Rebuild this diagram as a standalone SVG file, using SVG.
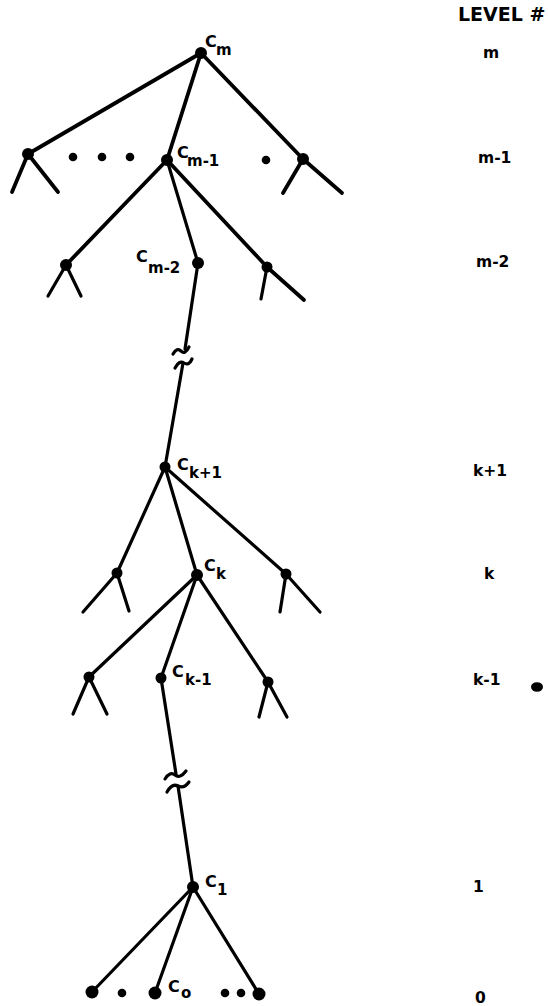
<svg xmlns="http://www.w3.org/2000/svg" width="548" height="1006" viewBox="0 0 548 1006">
<style>
.e{stroke:#000;stroke-width:3.2;fill:none;stroke-linecap:round}
.t{stroke-width:3.8}
.n{fill:#000}
.lbl{font-family:"DejaVu Sans",sans-serif;font-weight:bold;font-size:16px;fill:#000}
.sub{font-size:15px}
.lev{font-family:"DejaVu Sans",sans-serif;font-weight:bold;font-size:15.5px;fill:#000}
</style>
<rect width="548" height="1006" fill="#fff"/>
<g id="connectors">
<line class="e t" x1="201" y1="53" x2="28" y2="154"/>
<line class="e t" x1="201" y1="53" x2="167" y2="160"/>
<line class="e t" x1="201" y1="53" x2="303" y2="159"/>
<line class="e t" x1="28" y1="154" x2="12" y2="192"/>
<line class="e t" x1="28" y1="154" x2="58" y2="192"/>
<line class="e t" x1="303" y1="159" x2="283" y2="193"/>
<line class="e t" x1="303" y1="159" x2="342" y2="193"/>
<line class="e t" x1="167" y1="160" x2="66" y2="265"/>
<line class="e" x1="167" y1="160" x2="198" y2="263"/>
<line class="e t" x1="167" y1="160" x2="267" y2="267"/>
<line class="e" x1="66" y1="265" x2="48" y2="296"/>
<line class="e" x1="66" y1="265" x2="81" y2="296"/>
<line class="e" x1="267" y1="267" x2="261" y2="299"/>
<line class="e t" x1="267" y1="267" x2="304" y2="300"/>
<line class="e" x1="198" y1="263" x2="185" y2="349"/>
<path class="e" d="M173,354 Q177,347 181,351 T189,347"/>
<path class="e" d="M175,368 Q179,360 184,363 T192,359"/>
<line class="e" x1="183" y1="363" x2="165" y2="467"/>
<line class="e" x1="165" y1="467" x2="117" y2="573"/>
<line class="e" x1="165" y1="467" x2="197" y2="575"/>
<line class="e" x1="165" y1="467" x2="286" y2="574"/>
<line class="e" x1="117" y1="573" x2="83" y2="612"/>
<line class="e" x1="117" y1="573" x2="129" y2="611"/>
<line class="e" x1="286" y1="574" x2="280" y2="612"/>
<line class="e" x1="286" y1="574" x2="320" y2="612"/>
<line class="e" x1="197" y1="575" x2="89" y2="677"/>
<line class="e" x1="197" y1="575" x2="161" y2="678"/>
<line class="e" x1="197" y1="575" x2="268" y2="682"/>
<line class="e" x1="89" y1="677" x2="73" y2="714"/>
<line class="e" x1="89" y1="677" x2="107" y2="714"/>
<line class="e" x1="268" y1="682" x2="259" y2="717"/>
<line class="e" x1="268" y1="682" x2="287" y2="717"/>
<line class="e" x1="161" y1="678" x2="176" y2="774"/>
<path class="e" d="M165,779 Q170,771 175,775 T186,771"/>
<path class="e" d="M167,792 Q172,783 178,786 T189,782"/>
<line class="e" x1="178" y1="786" x2="193" y2="887"/>
<line class="e" x1="193" y1="887" x2="92" y2="992"/>
<line class="e" x1="193" y1="887" x2="155" y2="993"/>
<line class="e" x1="193" y1="887" x2="259" y2="994"/>
</g>
<g id="node-cm"><circle class="n" cx="201" cy="53" r="6"/><text class="lbl" x="205" y="47">C</text><text class="lbl sub" x="216" y="55">m</text></g>
<g id="node-m1-left"><circle class="n" cx="28" cy="154" r="6"/></g>
<g id="ellipsis-m1-left"><circle class="n" cx="73" cy="157" r="4.3"/><circle class="n" cx="102" cy="157" r="4.3"/><circle class="n" cx="130" cy="157" r="4.3"/></g>
<g id="node-cm1"><circle class="n" cx="167" cy="160" r="6"/><text class="lbl" x="177" y="158">C</text><text class="lbl sub" x="187" y="166">m-1</text></g>
<g id="ellipsis-m1-right"><circle class="n" cx="266" cy="160" r="4.3"/></g>
<g id="node-m1-right"><circle class="n" cx="303" cy="159" r="6"/></g>
<g id="node-m2-left"><circle class="n" cx="66" cy="265" r="6"/></g>
<g id="node-cm2"><circle class="n" cx="198" cy="263" r="6"/><text class="lbl" x="136" y="262">C</text><text class="lbl sub" x="148" y="273">m-2</text></g>
<g id="node-m2-right"><circle class="n" cx="267" cy="267" r="5.5"/></g>
<g id="node-ck1"><circle class="n" cx="165" cy="467" r="5.5"/><text class="lbl" x="177" y="470">C</text><text class="lbl sub" x="189" y="478">k+1</text></g>
<g id="node-k-left"><circle class="n" cx="117" cy="573" r="5.5"/></g>
<g id="node-ck"><circle class="n" cx="197" cy="575" r="6"/><text class="lbl" x="204" y="571">C</text><text class="lbl sub" x="216" y="579">k</text></g>
<g id="node-k-right"><circle class="n" cx="286" cy="574" r="5.5"/></g>
<g id="node-k1-left"><circle class="n" cx="89" cy="677" r="5.5"/></g>
<g id="node-ck-1"><circle class="n" cx="161" cy="678" r="5.5"/><text class="lbl" x="172" y="677">C</text><text class="lbl sub" x="185" y="685">k-1</text></g>
<g id="node-k1-right"><circle class="n" cx="268" cy="682" r="5.5"/></g>
<g id="node-c1"><circle class="n" cx="193" cy="887" r="6"/><text class="lbl" x="205" y="887">C</text><text class="lbl sub" x="217" y="895">1</text></g>
<g id="node-0-left"><circle class="n" cx="92" cy="992" r="6.5"/></g>
<g id="ellipsis-0-left"><circle class="n" cx="122" cy="993" r="4.3"/></g>
<g id="node-c0"><circle class="n" cx="155" cy="993" r="6.5"/><text class="lbl" x="168" y="992">C</text><text class="lbl sub" x="181" y="998">o</text></g>
<g id="ellipsis-0-right"><circle class="n" cx="225" cy="993" r="4.3"/><circle class="n" cx="241" cy="993" r="4.3"/></g>
<g id="node-0-right"><circle class="n" cx="259" cy="994" r="6.5"/></g>
<g id="levels">
<text class="lev" x="458" y="21" style="font-size:19px">LEVEL #</text>
<text class="lev" x="483" y="58">m</text>
<text class="lev" x="478" y="163">m-1</text>
<text class="lev" x="476" y="267">m-2</text>
<text class="lev" x="473" y="476">k+1</text>
<text class="lev" x="484" y="579">k</text>
<text class="lev" x="473" y="685">k-1</text>
<text class="lev" x="473" y="892">1</text>
<text class="lev" x="475" y="1003">0</text>
</g>
<g id="mark"><ellipse class="n" cx="537" cy="687" rx="6" ry="4.8"/></g>
</svg>
